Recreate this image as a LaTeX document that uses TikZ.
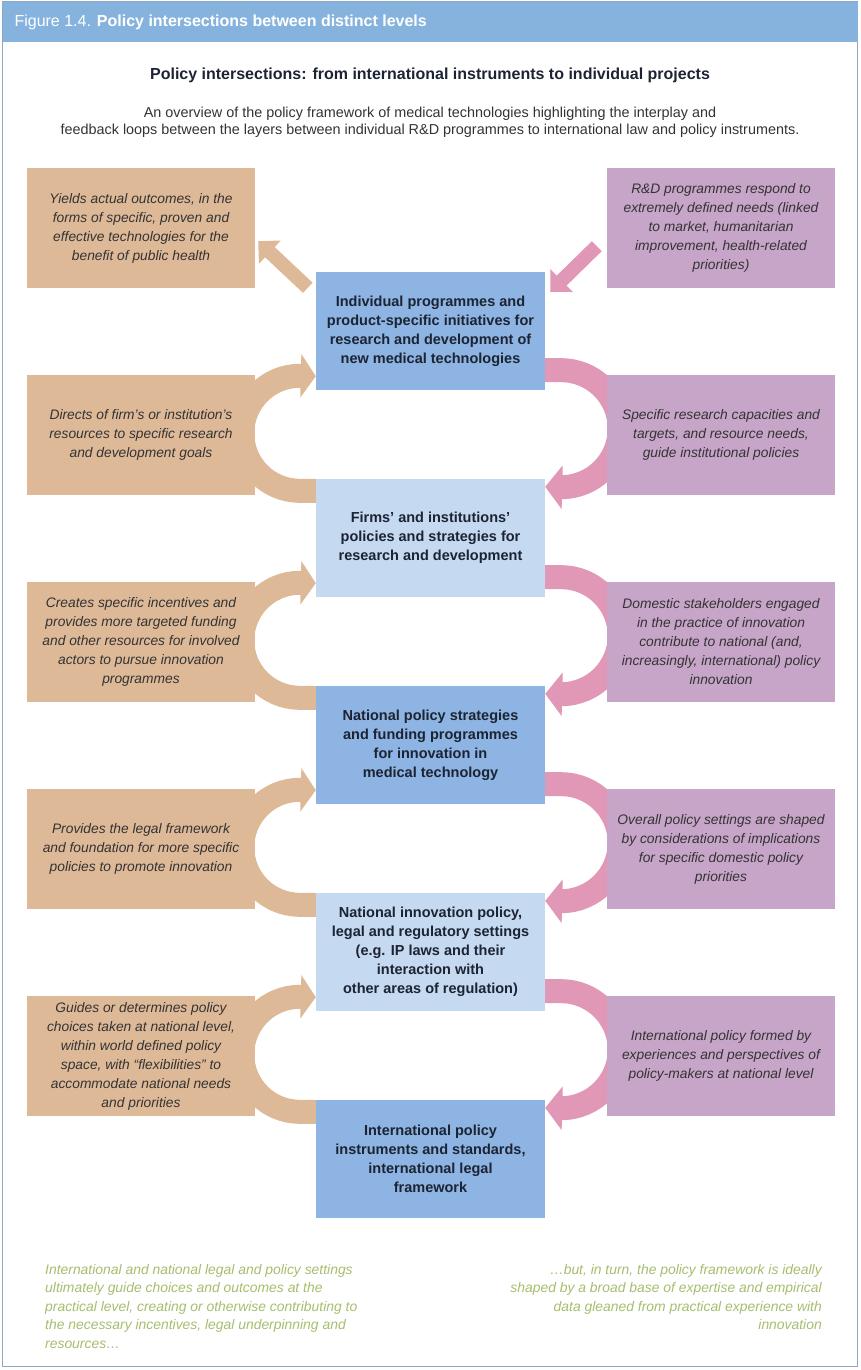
\documentclass[tikz,border=0pt]{standalone}
\usepackage{fontspec}
\setmainfont{Liberation Sans}
\usetikzlibrary{arrows.meta,calc,backgrounds}

\definecolor{cabecera}{HTML}{85B3DE}
\definecolor{marco}{HTML}{8CA8C6}
\definecolor{azul}{HTML}{8DB4E2}
\definecolor{celeste}{HTML}{C5D9F1}
\definecolor{arena}{HTML}{DDB998}
\definecolor{malva}{HTML}{C7A5C8}
\definecolor{rosa}{HTML}{E198B6}
\definecolor{oliva}{HTML}{A6BD6E}
\definecolor{texto}{HTML}{333333}
\definecolor{tinta}{HTML}{1C2433}

\tikzset{
  lado/.style={minimum width=228pt, minimum height=120pt, inner sep=0pt, align=center,
    text=texto, font=\fontsize{13.8}{19}\selectfont\itshape},
  izq/.style={lado, fill=arena},
  der/.style={lado, fill=malva},
  centro/.style={minimum width=229pt, minimum height=118pt, inner sep=0pt, align=center,
    text=tinta, font=\fontsize{14.5}{19}\selectfont\bfseries},
  oscuro/.style={centro, fill=azul},
  claro/.style={centro, fill=celeste},
  curvaL/.style={color=arena, line width=24pt, -{Triangle[width=43pt,length=15pt]}},
  curvaR/.style={color=rosa, line width=24pt, -{Triangle[width=43pt,length=17pt]}},
  diagL/.style={color=arena, line width=14pt, -{Triangle[width=31pt,length=16pt]}},
  diagR/.style={color=rosa, line width=14pt, -{Triangle[width=31pt,length=16pt]}},
  nota/.style={inner sep=0pt, text=oliva, font=\fontsize{13.9}{18.5}\selectfont\itshape}
}

\begin{document}
\begin{tikzpicture}[x=1pt,y=-1pt]
    \useasboundingbox (0,0) rectangle (860,1370);

    % Marco y cabecera
    \draw[marco, line width=1.2pt] (2.5,2) rectangle (857.5,1366.5);
    \fill[cabecera] (2.5,2) rectangle (857.5,42);
    \node[anchor=west, text=white, font=\fontsize{16}{19}\selectfont] (cab) at (11,22)
      {Figure 1.4. \textbf{Policy intersections between distinct levels}};

    % Titulo
    \node[text=tinta, font=\fontsize{16}{19}\selectfont\bfseries] (titulo) at (430,75)
      {Policy intersections: from international instruments to individual projects};
    \node[align=center, text=texto, font=\fontsize{14.4}{17}\selectfont] (sub) at (430,122)
      {An overview of the policy framework of medical technologies highlighting the interplay and\\
       feedback loops between the layers between individual R\&D programmes to international law and policy instruments.};

    % Cajas centrales
    \node[oscuro] (c1) at (430.5,331) {Individual programmes and\\ product-specific initiatives for\\ research and development of\\ new medical technologies};
    \node[claro]  (c2) at (430.5,538) {Firms’ and institutions’\\ policies and strategies for\\ research and development};
    \node[oscuro] (c3) at (430.5,745) {National policy strategies\\ and funding programmes\\ for innovation in\\ medical technology};
    \node[claro]  (c4) at (430.5,952) {National innovation policy,\\ legal and regulatory settings\\ (e.g. IP laws and their\\ interaction with\\ other areas of regulation)};
    \node[oscuro] (c5) at (430.5,1159) {International policy\\ instruments and standards,\\ international legal\\ framework};

    % Cajas de la izquierda
    \node[izq] (i1) at (141,228) {Yields actual outcomes, in the\\ forms of specific, proven and\\ effective technologies for the\\ benefit of public health};
    \node[izq] (i2) at (141,435) {Directs of firm’s or institution’s\\ resources to specific research\\ and development goals};
    \node[izq] (i3) at (141,642) {Creates specific incentives and\\ provides more targeted funding\\ and other resources for involved\\ actors to pursue innovation\\ programmes};
    \node[izq] (i4) at (141,849) {Provides the legal framework\\ and foundation for more specific\\ policies to promote innovation};
    \node[izq] (i5) at (141,1056) {Guides or determines policy\\ choices taken at national level,\\ within world defined policy\\ space, with “flexibilities” to\\ accommodate national needs\\ and priorities};

    % Cajas de la derecha
    \node[der] (d1) at (721,228) {R\&D programmes respond to\\ extremely defined needs (linked\\ to market, humanitarian\\ improvement, health-related\\ priorities)};
    \node[der] (d2) at (721,435) {Specific research capacities and\\ targets, and resource needs,\\ guide institutional policies};
    \node[der] (d3) at (721,642) {Domestic stakeholders engaged\\ in the practice of innovation\\ contribute to national (and,\\ increasingly, international) policy\\ innovation};
    \node[der] (d4) at (721,849) {Overall policy settings are shaped\\ by considerations of implications\\ for specific domestic policy\\ priorities};
    \node[der] (d5) at (721,1056) {International policy formed by\\ experiences and perspectives of\\ policy-makers at national level};

    % Flechas (debajo de las cajas)
    \begin{scope}[on background layer]
      \foreach \a/\b in {c1/c2,c2/c3,c3/c4,c4/c5}{
        \draw[curvaL] ($(\b.north west)+(0,12)$) -- ++(-16,0)
          arc[start angle=90,end angle=270,radius=57.5] -- ($(\a.south west)+(0,-14)$);
        \draw[curvaR] ($(\a.south east)+(0,-20)$) -- ++(16,0)
          arc[start angle=270,end angle=450,radius=58.5] -- ($(\b.north east)+(0,8)$);
      }
      \draw[diagL] ($(c1.north west)+(-8,16)$) -- ($(i1.south east)+(3,-47)$);
      \draw[diagR] ($(d1.south west)+(-10,-42)$) -- ($(c1.north east)+(5,20)$);
    \end{scope}

    % Notas al pie
    \node[nota, anchor=north west, align=left] (notaL) at (45,1264)
      {International and national legal and policy settings\\ ultimately guide choices and outcomes at the\\ practical level, creating or otherwise contributing to\\ the necessary incentives, legal underpinning and\\ resources…};
    \node[nota, anchor=north east, align=right] (notaR) at (822,1264)
      {…but, in turn, the policy framework is ideally\\ shaped by a broad base of expertise and empirical\\ data gleaned from practical experience with\\ innovation};
\end{tikzpicture}
\end{document}
